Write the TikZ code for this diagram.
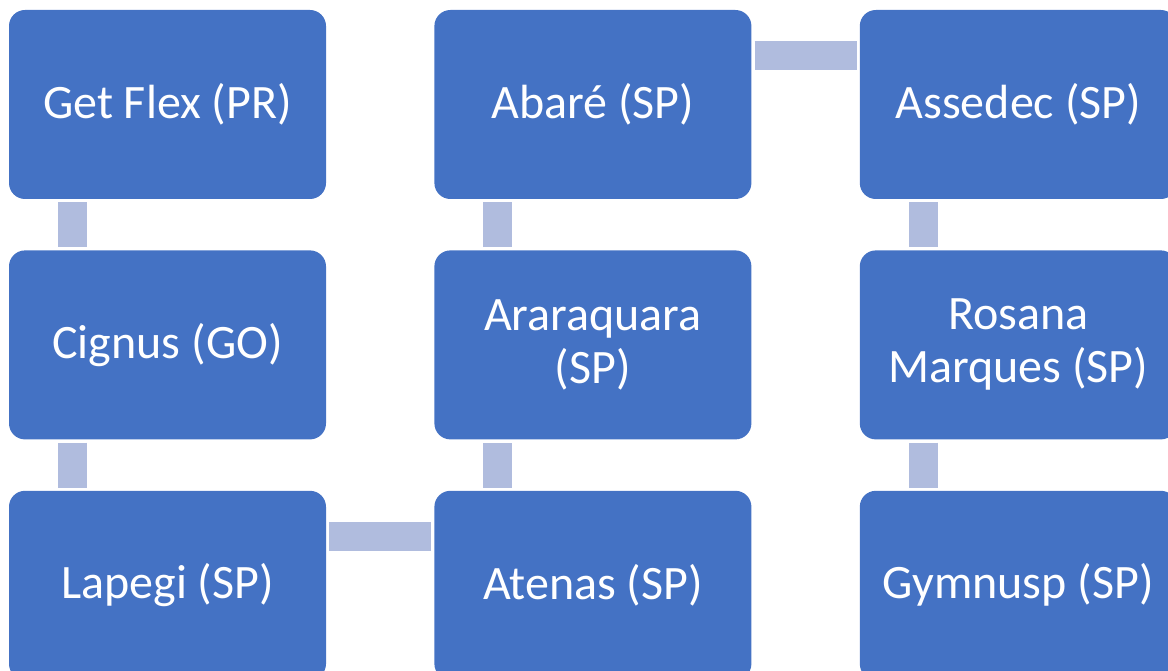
\documentclass[tikz,border=0pt]{standalone}
\usepackage{fontspec}
\setmainfont{Carlito}
\usetikzlibrary{positioning}
\definecolor{boxblue}{RGB}{68,114,196}
\definecolor{barblue}{RGB}{176,188,222}

\begin{document}
\begin{tikzpicture}[node distance= 51pt and 108pt]
      \useasboundingbox (0,0) rectangle (1168pt,-671pt);
      \clip (0,0) rectangle (1168pt,-671pt);
      \begin{scope}[every node/.style={rectangle,rounded corners=16pt,fill=boxblue,
          text=white,minimum width=317pt,minimum height=189pt,inner sep=0pt,align=center,
          font=\fontsize{48}{53}\selectfont}]
        \node (A) at (167.5pt,-104.5pt) {Get Flex (PR)};
        \node (B) [below= of A] {Cignus (GO)};
        \node (C) [below= of B] {Lapegi (SP)};
        \node (D) [right= of C] {Atenas (SP)};
        \node (E) [above= of D] {Araraquara\\(SP)};
        \node (F) [above= of E] {Abaré (SP)};
        \node (G) [right= of F] {Assedec (SP)};
        \node (H) [below= of G] {Rosana\\Marques (SP)};
        \node (I) [below= of H] {Gymnusp (SP)};
      \end{scope}
      \begin{scope}
        [every edge/.style={draw= barblue, line width=29pt, shorten <=3pt, shorten >=3pt}]
        \path ([xshift=63.5pt]A.south west) edge ([xshift=63.5pt]B.north west);
        \path ([xshift=63.5pt]B.south west) edge ([xshift=63.5pt]C.north west);
        \path ([yshift=-46pt]C.north east) edge ([yshift=-46pt]D.north west);
        \path ([xshift=63.5pt]D.north west) edge ([xshift=63.5pt]E.south west);
        \path ([xshift=63.5pt]E.north west) edge ([xshift=63.5pt]F.south west);
        \path ([yshift=-46pt]F.north east) edge ([yshift=-46pt]G.north west);
        \path ([xshift=63.5pt]G.south west) edge ([xshift=63.5pt]H.north west);
        \path ([xshift=63.5pt]H.south west) edge ([xshift=63.5pt]I.north west);
      \end{scope}
    \end{tikzpicture}
\end{document}
